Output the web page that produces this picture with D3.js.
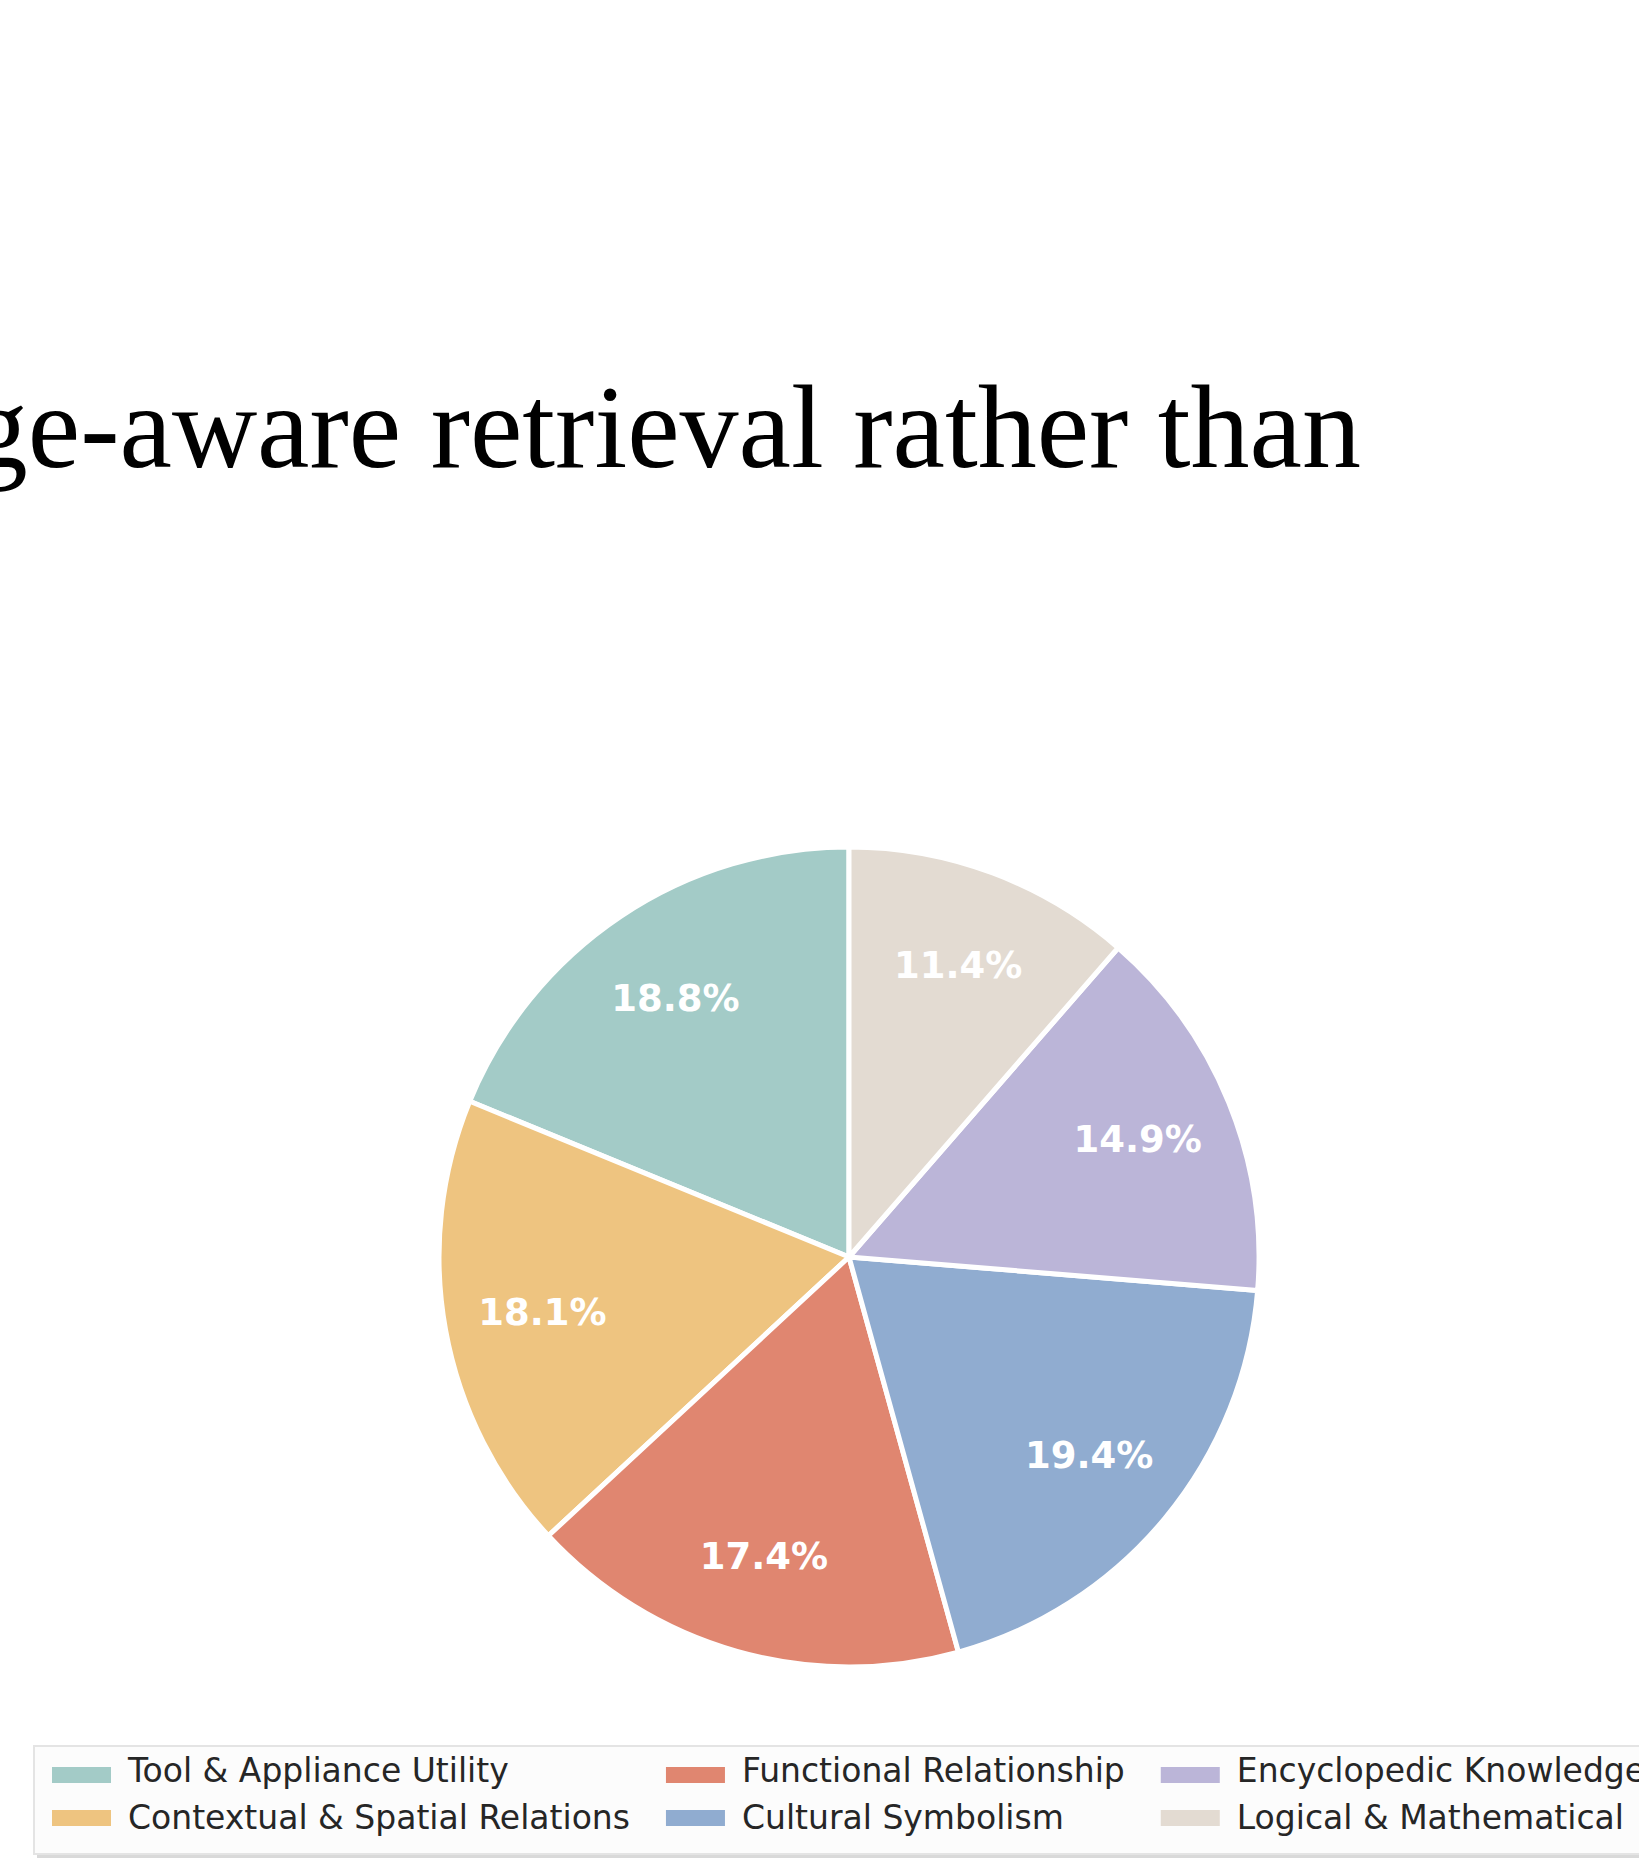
<!DOCTYPE html>
<html>
<head>
<meta charset="utf-8">
<script src="https://cdn.jsdelivr.net/npm/d3@7"></script>
<style>
  html, body { margin: 0; padding: 0; background: #ffffff; overflow: hidden; }
  svg { display: block; }
</style>
</head>
<body>
<script>
// ---- data ----
const categories = [
  "Tool & Appliance Utility",
  "Contextual & Spatial Relations",
  "Functional Relationship",
  "Cultural Symbolism",
  "Encyclopedic Knowledge",
  "Logical & Mathematical"
];
const shares = [18.8, 18.1, 17.4, 19.4, 14.9, 11.4];
const colors = ["#a3cbc7", "#eec480", "#e08670", "#90acd0", "#bbb5d8", "#e3dbd2"];
const titleText = "ge-aware retrieval rather than";

// ---- layout ----
const W = 1639, H = 1868;
const cx = 849, cy = 1257, R = 410;

const svg = d3.select("body").append("svg")
  .attr("width", W).attr("height", H);

svg.append("rect").attr("width", W).attr("height", H).attr("fill", "#ffffff");

// title
svg.append("text")
  .attr("x", 1361).attr("y", 467)
  .attr("text-anchor", "end")
  .attr("font-family", "'Liberation Serif', 'Times New Roman', serif")
  .attr("font-size", 118)
  .attr("fill", "#000")
  .text(titleText);

// pie (counter-clockwise from top, like matplotlib startangle=90)
const data = categories.map((c, i) => ({ name: c, value: shares[i], color: colors[i] }));
const pie = d3.pie().sort(null).value(d => d.value)
  .startAngle(0).endAngle(-2 * Math.PI);
const arcs = pie(data);
const arc = d3.arc().innerRadius(0).outerRadius(R);
const labelArc = d3.arc().innerRadius(R * 0.76).outerRadius(R * 0.76);

const g = svg.append("g").attr("transform", `translate(${cx},${cy})`);
g.selectAll("path.slice").data(arcs).join("path")
  .attr("class", "slice")
  .attr("d", arc)
  .attr("fill", d => d.data.color)
  .attr("stroke", "#ffffff")
  .attr("stroke-width", 5)
  .attr("stroke-linejoin", "round");

const pct = d3.format(".1f");
g.selectAll("text.lbl").data(arcs).join("text")
  .attr("class", "lbl")
  .attr("transform", d => `translate(${labelArc.centroid(d)})`)
  .attr("text-anchor", "middle")
  .attr("dominant-baseline", "central")
  .attr("font-family", "'DejaVu Sans', sans-serif")
  .attr("font-weight", "bold")
  .attr("font-size", 37)
  .attr("fill", "#ffffff")
  .text(d => pct(d.data.value) + "%");

// legend (3 columns, column-major)
const legendTop = 1746, legendBottom = 1854, legendLeft = 34;
svg.append("rect")
  .attr("x", legendLeft + 3).attr("y", legendTop + 4)
  .attr("width", 1700).attr("height", legendBottom - legendTop)
  .attr("fill", "#d9d9d9");
svg.append("rect")
  .attr("x", legendLeft).attr("y", legendTop)
  .attr("width", 1700).attr("height", legendBottom - legendTop)
  .attr("fill", "#fcfcfc")
  .attr("stroke", "#e4e4e4").attr("stroke-width", 2);

const ncol = 3, nrow = 2;
const fontSize = 33;
const patchW = 59, patchH = 16, textOffset = 76, colSpacing = 36;
const rowBase = [1782, 1829];
const rowPatchTop = [1767, 1810];

const lg = svg.append("g");
// measure text widths for column placement
const measure = lg.append("text")
  .attr("font-family", "'DejaVu Sans', sans-serif")
  .attr("font-size", fontSize);
let colX = 52;
for (let c = 0; c < ncol; c++) {
  let maxW = 0;
  for (let r = 0; r < nrow; r++) {
    const i = c * nrow + r;
    if (i >= data.length) continue;
    measure.text(data[i].name);
    maxW = Math.max(maxW, measure.node().getComputedTextLength());
    lg.append("rect")
      .attr("x", colX).attr("y", rowPatchTop[r])
      .attr("width", patchW).attr("height", patchH)
      .attr("fill", data[i].color);
    lg.append("text")
      .attr("x", colX + textOffset).attr("y", rowBase[r])
      .attr("font-family", "'DejaVu Sans', sans-serif")
      .attr("font-size", fontSize)
      .attr("fill", "#262626")
      .text(data[i].name);
  }
  colX = colX + textOffset + maxW + colSpacing;
}
measure.remove();
</script>
</body>
</html>
